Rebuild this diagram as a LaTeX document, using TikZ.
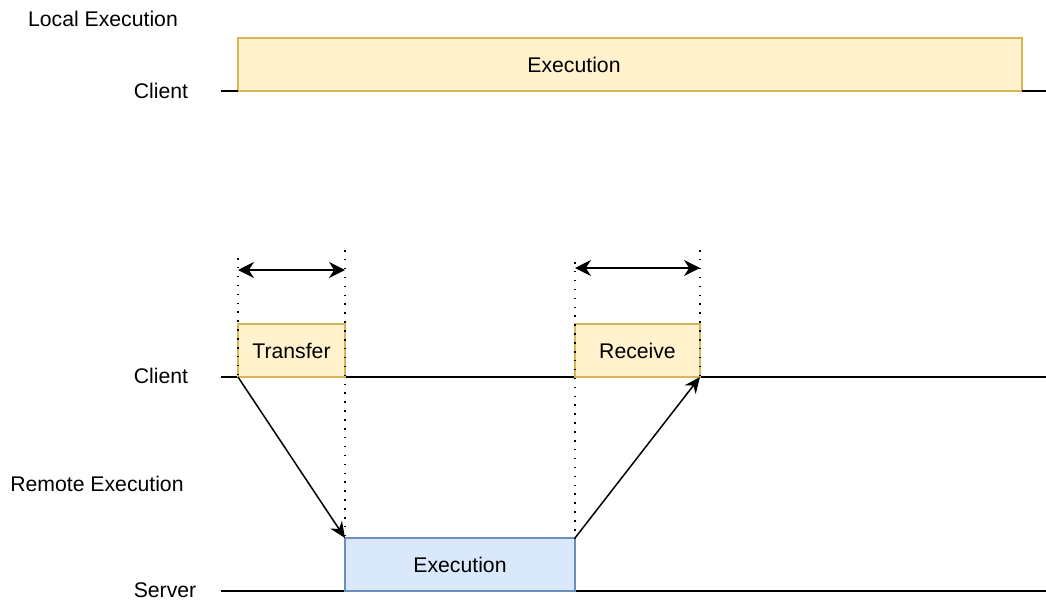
\documentclass[tikz,border=0pt]{standalone}
\usepackage{fontspec}
\setmainfont{Liberation Sans}
\usetikzlibrary{arrows.meta}

\definecolor{yfill}{HTML}{FFF2CC}
\definecolor{ydraw}{HTML}{D6B656}
\definecolor{bfill}{HTML}{DAE8FC}
\definecolor{bdraw}{HTML}{6C8EBF}

\begin{document}
\begin{tikzpicture}[x=0.5pt, y=-0.5pt, font=\fontsize{10.6}{12}\selectfont,
    ybox/.style={draw=ydraw, fill=yfill, line width=0.75pt, inner sep=0pt, outer sep=0pt, minimum height=26.5pt},
    bbox/.style={draw=bdraw, fill=bfill, line width=0.75pt, inner sep=0pt, outer sep=0pt, minimum height=26.5pt},
    axis/.style={line width=0.75pt},
    guide/.style={line width=0.75pt, dash pattern=on 0.75pt off 3.7pt},
    flow/.style={line width=0.75pt, -{Stealth[length=8pt, width=7pt]}},
    span/.style={line width=0.75pt, {Stealth[length=8pt, width=8pt]}-{Stealth[length=8pt, width=8pt]}}]
  \useasboundingbox (0,0) rectangle (1046,600);

  % local execution
  \node (local) at (103,19) {Local Execution};
  \node (clientA) at (161,91) {Client};
  \coordinate (lineA0) at (221,91);
  \coordinate (lineA1) at (1046,91);
  \node[ybox, minimum width=392pt, label={[xshift=-28pt]center:Execution}] (execA) at (630,64.5) {};
  \draw[axis] (lineA0) -- (execA.south west);
  \draw[axis] (execA.south east) -- (lineA1);

  % remote execution
  \node (remote) at (97,484) {Remote Execution};
  \node (clientB) at (161,376) {Client};
  \node (server) at (165,590) {Server};
  \coordinate (lineB0) at (221,377);
  \coordinate (lineB1) at (1046,377);
  \coordinate (lineC0) at (221,591);
  \coordinate (lineC1) at (1046,591);
  \draw[axis] (lineB0) -- (lineB1);
  \draw[axis] (lineC0) -- (lineC1);

  \node[ybox, minimum width=53.5pt] (transfer) at (291.5,350.5) {Transfer};
  \node[ybox, minimum width=62.5pt] (receive) at (637.5,350.5) {Receive};
  \node[bbox, minimum width=115pt] (execB) at (460,564.5) {Execution};

  % guides and spans
  \coordinate (t1) at (238,258);
  \coordinate (t2) at (345,250);
  \coordinate (t3) at (575,262);
  \coordinate (t4) at (700,250);
  \draw[guide] (t1) -- (transfer.south west);
  \draw[guide] (t2) -- (execB.north west);
  \draw[guide] (t3) -- (execB.north east);
  \draw[guide] (t4) -- (receive.south east);

  \coordinate (s1) at (238,270);
  \coordinate (s2) at (345,270);
  \coordinate (s3) at (575,268);
  \coordinate (s4) at (700,268);
  \draw[span] (s1) -- (s2);
  \draw[span] (s3) -- (s4);

  \draw[flow] (transfer.south west) -- (execB.north west);
  \draw[flow] (execB.north east) -- (receive.south east);
\end{tikzpicture}
\end{document}
